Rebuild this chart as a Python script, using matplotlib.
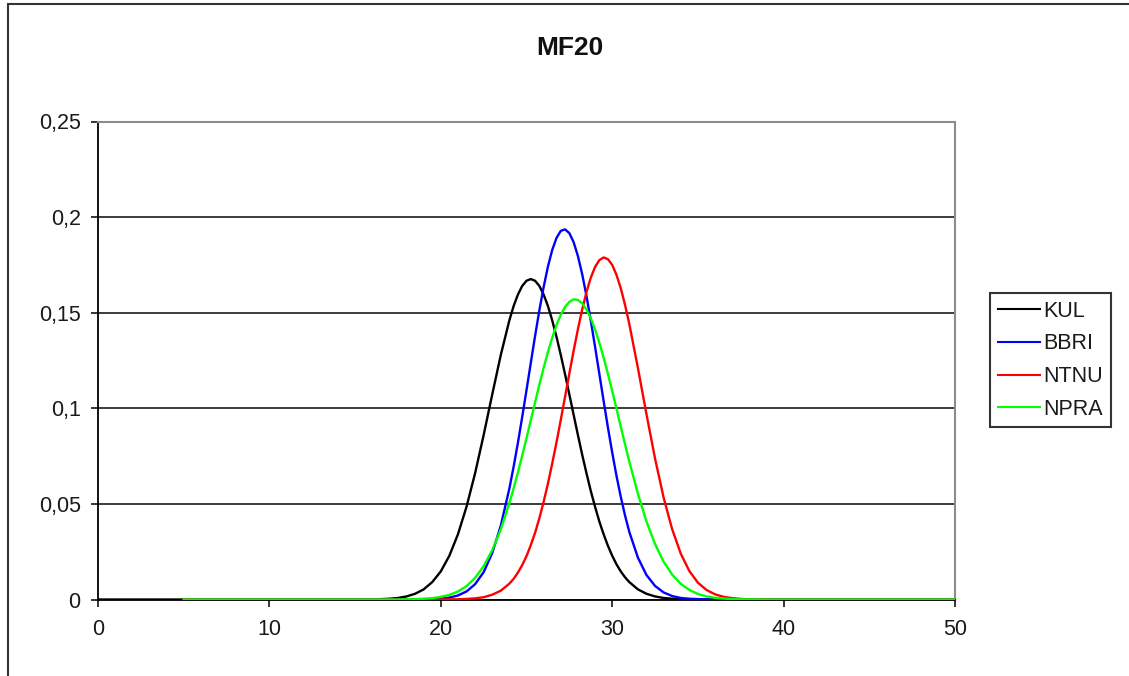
import numpy as np
import matplotlib
matplotlib.use("Agg")
import matplotlib.pyplot as plt
from matplotlib.patches import Rectangle

plt.rcParams['font.family'] = ['Liberation Sans', 'DejaVu Sans']

# ---- data -----------------------------------------------------------------
x_values = [0, 5, 10, 14, 15,
            16, 16.5, 17, 17.5, 18, 18.5, 19, 19.5, 20, 20.5, 21, 21.5, 22, 22.5, 23, 23.5,
            24, 24.25, 24.5, 24.75, 25, 25.25, 25.5, 25.75,
            26, 26.25, 26.5, 26.75, 27, 27.25, 27.5, 27.75,
            28, 28.25, 28.5, 28.75, 29, 29.25, 29.5, 29.75, 30, 30.25, 30.5, 30.75,
            31, 31.5, 32, 32.5, 33, 33.5, 34, 34.5, 35, 35.5, 36, 36.5, 37, 37.5, 38,
            39, 40, 45, 50]

kul = [0, 0, 0, 0, 0,
       0.0001, 0.0002, 0.0004, 0.0008, 0.0016, 0.0030, 0.0053, 0.0091,
       0.0147, 0.0229, 0.0341, 0.0485, 0.0660, 0.0860, 0.1072, 0.1279,
       0.1460, 0.1535, 0.1595, 0.1640, 0.1667, 0.1676, 0.1667, 0.1640,
       0.1595, 0.1535, 0.1460, 0.1374, 0.1279, 0.1178, 0.1072, 0.0966,
       0.0860, 0.0757, 0.0660, 0.0568, 0.0485, 0.0408, 0.0341, 0.0281,
       0.0229, 0.0184, 0.0147, 0.0116,
       0.0091, 0.0053, 0.0030, 0.0016, 0.0008, 0.0004, 0.0002, 0.0001,
       0, 0, 0, 0, 0, 0, 0,
       0, 0, 0, 0]

bbri = [np.nan, 0, 0, 0, 0,
        0, 0, 0, 0, 0, 0, 0.0001, 0.0002,
        0.0004, 0.0010, 0.0021, 0.0042, 0.0080, 0.0143, 0.0243, 0.0386,
        0.0580, 0.0695, 0.0820, 0.0955, 0.1095, 0.1237, 0.1378, 0.1512,
        0.1634, 0.1741, 0.1828, 0.1891, 0.1928, 0.1936, 0.1916, 0.1869,
        0.1796, 0.1701, 0.1587, 0.1459, 0.1322, 0.1180, 0.1038, 0.0900,
        0.0769, 0.0647, 0.0537, 0.0439,
        0.0353, 0.0219, 0.0128, 0.0071, 0.0037, 0.0018, 0.0008, 0.0004,
        0.0002, 0.0001, 0, 0, 0, 0, 0,
        0, 0, 0, 0]

ntnu = [np.nan, 0, 0, 0, 0,
        0, 0, 0, 0, 0, 0, 0, 0,
        0, 0.0001, 0.0001, 0.0003, 0.0006, 0.0012, 0.0025, 0.0046,
        0.0083, 0.0108, 0.0141, 0.0180, 0.0227, 0.0284, 0.0349, 0.0425,
        0.0511, 0.0606, 0.0711, 0.0822, 0.0940, 0.1061, 0.1182, 0.1301,
        0.1414, 0.1517, 0.1608, 0.1683, 0.1739, 0.1775, 0.1789, 0.1780,
        0.1750, 0.1698, 0.1628, 0.1540,
        0.1440, 0.1211, 0.0969, 0.0737, 0.0533, 0.0367, 0.0240, 0.0149,
        0.0088, 0.0050, 0.0027, 0.0014, 0.0007, 0.0003, 0.0001,
        0, 0, 0, 0]

npra = [np.nan, 0, 0, 0, 0,
        0, 0, 0, 0, 0.0001, 0.0002, 0.0004, 0.0007,
        0.0014, 0.0024, 0.0042, 0.0070, 0.0113, 0.0174, 0.0258, 0.0367,
        0.0504, 0.0582, 0.0665, 0.0753, 0.0844, 0.0938, 0.1031, 0.1123,
        0.1212, 0.1294, 0.1369, 0.1435, 0.1489, 0.1530, 0.1557, 0.1570,
        0.1567, 0.1549, 0.1517, 0.1471, 0.1412, 0.1343, 0.1265, 0.1180,
        0.1091, 0.0998, 0.0904, 0.0811,
        0.0721, 0.0553, 0.0408, 0.0290, 0.0198, 0.0130, 0.0082, 0.0050,
        0.0029, 0.0016, 0.0009, 0.0005, 0.0002, 0.0001, 0.0001,
        0, 0, 0, 0]

series_names = ["KUL", "BBRI", "NTNU", "NPRA"]
series_colors = ["#000000", "#0000FF", "#FF0000", "#00FF00"]
title_text = "MF20"
y_ticks = [0, 0.05, 0.1, 0.15, 0.2, 0.25]
y_tick_labels = ["0", "0,05", "0,1", "0,15", "0,2", "0,25"]
x_ticks = [0, 10, 20, 30, 40, 50]

# ---- figure ---------------------------------------------------------------
W, H = 1129, 676
fig = plt.figure(figsize=(W / 100, H / 100), dpi=100)

# outer chart frame (left and top edges visible)
fig.patches.append(Rectangle((8.3 / W, -0.1), 1.2, 1 - 3.5 / H + 0.1,
                             transform=fig.transFigure, fill=False,
                             edgecolor="#333333", linewidth=1.5))

left, right = 98 / W, 955 / W
bottom, top = 1 - 599.5 / H, 1 - 121.5 / H
ax = fig.add_axes([left, bottom, right - left, top - bottom])

for vals, name, col in zip([kul, bbri, ntnu, npra], series_names, series_colors):
    ax.plot(x_values, vals, color=col, linewidth=1.7, label=name,
            solid_joinstyle="round", zorder=3)

ax.set_xlim(0, 50)
ax.set_ylim(0, 0.25)
ax.set_xticks(x_ticks)
ax.set_xticklabels([str(v) for v in x_ticks])
ax.set_yticks(y_ticks)
ax.set_yticklabels(y_tick_labels)

ax.yaxis.grid(True, color="#1a1a1a", linewidth=1.2, zorder=1)
ax.set_axisbelow(True)

for side in ("top", "right"):
    ax.spines[side].set_color("#8c8c8c")
    ax.spines[side].set_linewidth(1.5)
for side in ("left", "bottom"):
    ax.spines[side].set_color("#000000")
    ax.spines[side].set_linewidth(1.3)

ax.tick_params(axis="both", direction="out", length=5, width=1.1,
               color="#000000", labelsize=15.5, labelcolor="#1a1a1a")
ax.tick_params(axis="y", pad=7.5)
ax.tick_params(axis="x", pad=9)

fig.text(570 / W, 1 - 48 / H, title_text, ha="center", va="center",
         fontsize=19, fontweight="bold", color="#111111")

leg = ax.legend(loc="upper left", bbox_to_anchor=(990 / W, 1 - 293.3 / H),
                bbox_transform=fig.transFigure, fontsize=15.5,
                frameon=True, fancybox=False, shadow=False,
                borderaxespad=0, borderpad=0.35, handlelength=1.95,
                handletextpad=0.18, labelspacing=0.54)
leg.get_frame().set_edgecolor("#000000")
leg.get_frame().set_linewidth(1.5)
for txt in leg.get_texts():
    txt.set_color("#1a1a1a")
for line in leg.get_lines():
    line.set_linewidth(1.5)

fig.savefig("out.png", dpi=100)
